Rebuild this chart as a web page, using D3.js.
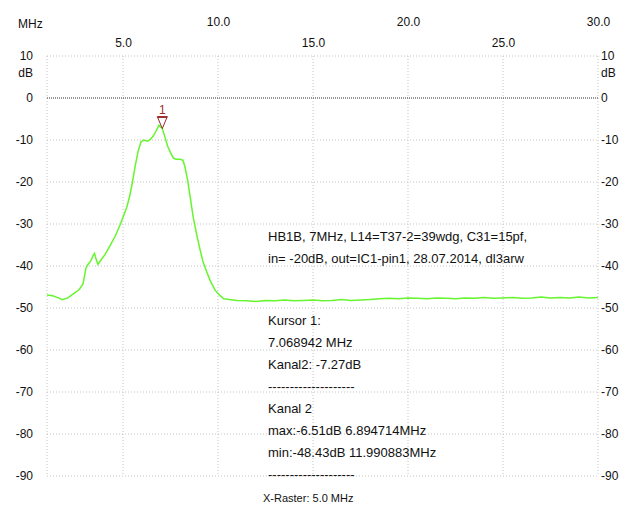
<!DOCTYPE html>
<html lang="en">
<head>
<meta charset="UTF-8">
<script src="https://d3js.org/d3.v7.min.js"></script>
<title>Frequenzgang</title>
<style>
  body { margin: 0; background: #fff; }
  svg text { font-family: "Liberation Sans", Arial, sans-serif; font-size: 12px; fill: #111; }
  svg text.note { font-size: 13px; }
</style>
</head>
<body>
<div id="chart"></div>
<script>
// trace of Kanal 2 (MHz, dB)
const freqs = [1.0, 1.3, 1.6, 1.8, 2.1, 2.4, 2.7, 2.9, 3.05, 3.15, 3.3, 3.42, 3.5, 3.6, 3.68, 3.8,
  4.05, 4.3, 4.6, 4.85, 5.05, 5.2, 5.35, 5.5, 5.65, 5.8, 5.95, 6.1, 6.3, 6.45, 6.6, 6.75, 6.89,
  7.07, 7.2, 7.35, 7.5, 7.65, 7.8, 8.0, 8.15, 8.25, 8.4, 8.55, 8.7, 8.9, 9.05, 9.2, 9.4, 9.6,
  9.85, 10.1, 10.3, 10.6, 11.0, 11.5, 11.99, 12.5, 13.0, 13.5, 14.0, 14.5, 15.0, 15.5, 16.0,
  16.5, 17.0, 17.5, 18.0, 18.5, 19.0, 19.5, 20.0, 20.5, 21.0, 21.5, 22.0, 22.5, 23.0, 23.5,
  24.0, 24.5, 25.0, 25.5, 26.0, 26.5, 27.0, 27.5, 28.0, 28.5, 29.0, 29.5, 30.0];
const levels = [-46.9, -47.1, -47.6, -48.0, -47.6, -46.6, -45.6, -44.2, -40.5, -39.7, -38.8, -37.6, -37.0, -38.6, -39.6, -38.8,
  -37.3, -35.3, -32.8, -30.2, -27.8, -26.0, -23.4, -20.0, -16.0, -12.6, -10.4, -10.0, -10.3, -9.8, -9.0, -7.8, -6.51,
  -7.27, -9.2, -11.5, -13.0, -14.3, -14.6, -14.6, -14.8, -16.2, -19.5, -24.0, -28.5, -33.0, -36.0, -38.8, -41.3, -43.6,
  -45.8, -47.0, -47.8, -48.0, -48.2, -48.3, -48.43, -48.2, -48.3, -48.1, -48.3, -48.2, -48.1, -48.3, -48.2,
  -48.0, -48.2, -48.1, -48.0, -47.8, -47.7, -47.8, -47.6, -47.7, -47.8, -47.6, -47.7, -47.8, -47.6, -47.7,
  -47.5, -47.7, -47.6, -47.5, -47.7, -47.6, -47.4, -47.6, -47.5, -47.6, -47.4, -47.6, -47.5];

const xTicks = [5, 10, 15, 20, 25, 30];
const yTicks = [10, 0, -10, -20, -30, -40, -50, -60, -70, -80, -90];
const cursor = { label: "1", freq: 7.068942, level: -7.27 };
const infoLines = ["HB1B, 7MHz, L14=T37-2=39wdg, C31=15pf,", "in= -20dB, out=IC1-pin1, 28.07.2014, dl3arw"];
const cursorLines = ["Kursor 1:", "7.068942 MHz", "Kanal2: -7.27dB", "--------------------",
  "Kanal 2", "max:-6.51dB 6.894714MHz", "min:-48.43dB 11.990883MHz", "--------------------"];

const width = 622, height = 505;
const plotL = 47, plotR = 598, plotT = 56, plotB = 476;

const x = d3.scaleLinear().domain([1, 30]).range([plotL, plotR]);
const y = d3.scaleLinear().domain([-90, 10]).range([plotB, plotT]);

const svg = d3.select("#chart").append("svg")
  .attr("width", width).attr("height", height);

// grid
const grid = svg.append("g").attr("stroke", "#c4c4c4").attr("stroke-dasharray", "1,2");
grid.selectAll(".gx").data([1].concat(xTicks)).join("line")
  .attr("x1", d => x(d)).attr("x2", d => x(d))
  .attr("y1", plotT).attr("y2", plotB);
grid.selectAll(".gy").data(yTicks.filter(d => d !== 0)).join("line")
  .attr("x1", plotL).attr("x2", plotR)
  .attr("y1", d => y(d)).attr("y2", d => y(d));
svg.append("line")
  .attr("x1", plotL).attr("x2", plotR).attr("y1", y(0)).attr("y2", y(0))
  .attr("stroke", "#333").attr("stroke-dasharray", "1,1");

const fixFont = sel => sel.style("font-family", "Liberation Sans, Arial, sans-serif")
  .style("font-size", "12px").attr("fill", "#111");

// x labels, alternating rows
const xAxis = svg.append("g").attr("transform", "translate(0," + plotT + ")")
  .call(d3.axisTop(x).tickValues(xTicks).tickSize(0).tickFormat(d => d.toFixed(1)));
xAxis.select(".domain").remove();
xAxis.selectAll("text").attr("y", d => (d % 10 === 0 ? -30 : -9)).call(fixFont);

// y labels, both sides
const yl = svg.append("g").attr("transform", "translate(33,0)")
  .call(d3.axisLeft(y).tickValues(yTicks).tickSize(0).tickPadding(0).tickFormat(d => String(d)));
const yr = svg.append("g").attr("transform", "translate(601,0)")
  .call(d3.axisRight(y).tickValues(yTicks).tickSize(0).tickPadding(0).tickFormat(d => String(d)));
[yl, yr].forEach(g => {
  g.select(".domain").remove();
  g.selectAll("text").call(fixFont);
});
svg.append("text").attr("x", 33).attr("y", y(10) + 21).attr("text-anchor", "end").text("dB");
svg.append("text").attr("x", 601).attr("y", y(10) + 21).text("dB");
svg.append("text").attr("x", 18).attr("y", 28).text("MHz");

// trace
const pts = freqs.map((f, i) => [f, levels[i]]);
svg.append("path").datum(pts)
  .attr("fill", "none").attr("stroke", "#66f52e").attr("stroke-width", 1.5)
  .attr("d", d3.line().x(d => x(d[0])).y(d => y(d[1])));

// cursor marker
const cx = x(cursor.freq), cy = y(cursor.level);
const mk = svg.append("g").attr("stroke", "#9b2b2b").attr("fill", "none");
mk.append("path").attr("d", `M${cx - 5},${cy - 12}L${cx + 5},${cy - 12}L${cx},${cy}Z`).attr("stroke-width", 1);
mk.append("line").attr("x1", cx - 5).attr("x2", cx + 5).attr("y1", cy - 11).attr("y2", cy - 11);
svg.append("text").attr("x", cx).attr("y", cy - 15).attr("text-anchor", "middle")
  .style("fill", "#9b2b2b").text(cursor.label);

// annotations
svg.append("g").selectAll("text").data(infoLines).join("text").attr("class", "note")
  .attr("x", 268).attr("y", (d, i) => 241 + i * 21.5).text(d => d);
svg.append("g").selectAll("text").data(cursorLines).join("text").attr("class", "note")
  .attr("x", 268).attr("y", (d, i) => 325 + i * 22).text(d => d);
svg.append("text").attr("x", 263).attr("y", 502).style("font-size", "11px").text("X-Raster: 5.0 MHz");
</script>
</body>
</html>
